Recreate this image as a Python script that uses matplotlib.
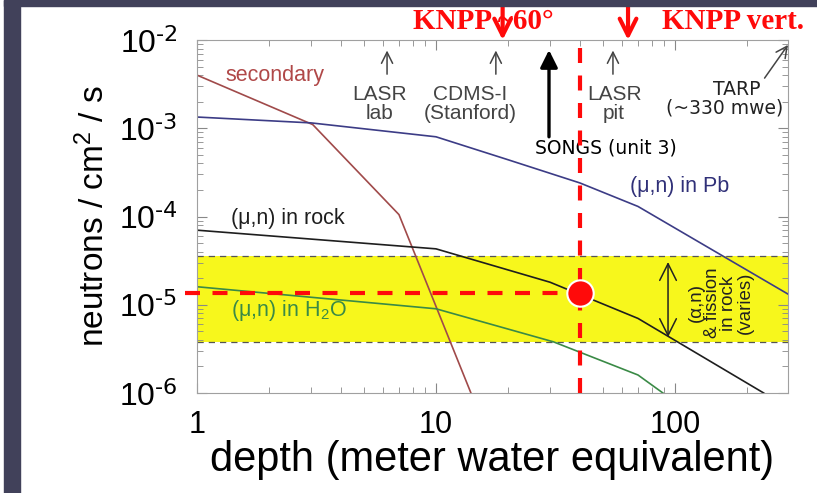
import numpy as np
import matplotlib
matplotlib.use("Agg")
from matplotlib import pyplot as plt
from matplotlib.ticker import LogLocator, NullFormatter

plt.rcParams['font.family'] = ['Liberation Sans', 'DejaVu Sans']
plt.rcParams['mathtext.default'] = 'regular'

# curves (depth in mwe, flux in n/cm2/s)
depth_secondary = [1, 3.05, 7, 14]
flux_secondary = [4.0e-3, 1.1e-3, 1.05e-4, 1e-6]
depth_pb = [1, 3, 10, 20, 40, 70, 300]
flux_pb = [1.34e-3, 1.15e-3, 8e-4, 4.4e-4, 2.4e-4, 1.3e-4, 1.3e-5]
depth_rock = [1, 10, 30, 70, 235]
flux_rock = [7e-5, 4.3e-5, 1.8e-5, 7e-6, 1e-6]
depth_h2o = [1, 10, 31, 70, 89]
flux_h2o = [1.6e-5, 9e-6, 3.8e-6, 1.6e-6, 1e-6]

# (alpha,n) band and KNPP point
band_lo, band_hi = 3.8e-6, 3.56e-5
knpp_depth, knpp_flux = 40, 1.35e-5

# site markers (depth)
sites_thin = {"LASR lab": 6.24, "CDMS-I": 17.8, "LASR pit": 55}
songs_depth = 29.7
knpp60_depth = 19
knppvert_depth = 63.6

fig = plt.figure(figsize=(8.17, 4.93), dpi=100)
fig.patches.append(plt.Rectangle((4/817, 0), 16/817, 1, transform=fig.transFigure,
                                 color='#41415a', zorder=0))
fig.patches.append(plt.Rectangle((4/817, 487/493), 1, 6/493, transform=fig.transFigure,
                                 color='#41415a', zorder=0))
ax = fig.add_axes([197/817, 100/493, 591/817, 353/493])
ax.set_xscale('log')
ax.set_yscale('log')
ax.set_xlim(1, 297)
ax.set_ylim(1e-6, 1e-2)

ax.axhspan(band_lo, band_hi, color='#f7f71c', zorder=0, lw=0)
for yv in (band_lo, band_hi):
    ax.axhline(yv, color='#555555', ls=(0, (5, 4)), lw=0.9, zorder=1)

ax.plot(depth_secondary, flux_secondary, color='#a04a4a', lw=1.2)
ax.plot(depth_pb, flux_pb, color='#3c3c86', lw=1.2)
ax.plot(depth_rock, flux_rock, color='#1e1e1e', lw=1.2)
ax.plot(depth_h2o, flux_h2o, color='#3a8a46', lw=1.2)

for s in ax.spines.values():
    s.set_color('#a0a0a0')
ax.xaxis.set_major_locator(LogLocator(base=10))
ax.yaxis.set_major_locator(LogLocator(base=10))
ax.xaxis.set_major_formatter(plt.FuncFormatter(lambda v, p: '%d' % round(v)))
ax.yaxis.set_major_formatter(plt.FuncFormatter(
    lambda v, p: r'$10^{\text{-%d}}$' % round(-np.log10(v))))
ax.xaxis.set_minor_locator(LogLocator(base=10, subs=np.arange(2, 10)))
ax.yaxis.set_minor_locator(LogLocator(base=10, subs=np.arange(2, 10)))
ax.xaxis.set_minor_formatter(NullFormatter())
ax.yaxis.set_minor_formatter(NullFormatter())
ax.tick_params(which='both', direction='in', top=True, right=True, color='#888888')
ax.tick_params(which='major', length=7, width=0.8)
ax.tick_params(which='minor', length=4, width=0.6)
ax.tick_params(axis='y', labelsize=23, pad=14)
ax.tick_params(axis='x', labelsize=22, pad=12)

ax.set_xlabel("depth (meter water equivalent)", fontsize=30, labelpad=0)
ax.set_ylabel("neutrons / cm$^2$ / s", fontsize=24)
ax.yaxis.set_label_coords(-0.145, 0.5)

# curve labels
ax.text(2.12, 4.0e-3, "secondary", color='#b04848', fontsize=15.5, ha='center', va='center')
ax.text(64.8, 2.16e-4, "(\u03bc,n) in Pb", color='#303078', fontsize=15.5, va='center')
ax.text(1.39, 9.6e-5, "(\u03bc,n) in rock", color='#1e1e1e', fontsize=15.5, va='center')
ax.text(1.39, 8.7e-6, "(\u03bc,n) in H$_2$O", color='#3a8a46', fontsize=15.5, va='center')

# site arrows and labels
arr = dict(arrowstyle='->', color='#444444', lw=1.1, mutation_scale=20, shrinkA=0, shrinkB=0)
for name, d in sites_thin.items():
    ax.annotate("", xy=(d, 7.6e-3), xytext=(d, 4.1e-3), arrowprops=arr)
ax.text(5.83, 1.88e-3, "LASR\nlab", fontsize=15, color='#444444', ha='center', va='center',
        linespacing=1.0)
ax.text(13.9, 1.88e-3, "CDMS-I\n(Stanford)", fontsize=15, color='#444444', ha='center',
        va='center', linespacing=1.0)
ax.text(55.6, 1.88e-3, "LASR\npit", fontsize=15, color='#444444', ha='center', va='center',
        linespacing=1.0)
ax.annotate("", xy=(297, 8.8e-3), xytext=(237, 3.7e-3), arrowprops=arr, annotation_clip=False)
ax.text(182, 2.75e-3, "TARP", fontsize=13.5, color='#222222', ha='center', va='center',
        family='DejaVu Sans')
ax.text(162, 1.7e-3, "(~330 mwe)", fontsize=13.5, color='#222222', ha='center', va='center',
        family='DejaVu Sans')
ax.annotate("", xy=(songs_depth, 7.7e-3), xytext=(songs_depth, 8e-4),
            arrowprops=dict(arrowstyle='-|>', color='black', lw=2.4, mutation_scale=26,
                            shrinkA=0, shrinkB=0))
ax.text(51.4, 6e-4, "SONGS (unit 3)", fontsize=13.5, color='black', ha='center', va='center',
        family='DejaVu Sans')

# (alpha,n) band note
ax.annotate("", xy=(93.5, 3.05e-5), xytext=(93.5, 4.3e-6),
            arrowprops=dict(arrowstyle='<->', color='#222222', lw=1.1, mutation_scale=30,
                            shrinkA=0, shrinkB=0))
ax.text(155, 1.05e-5, "(\u03b1,n)\n& fission\nin rock\n(varies)", fontsize=13.5, rotation=90,
        ha='center', va='center', color='#222222', linespacing=0.95)

# KNPP marks
red = '#ff0a0a'
ax.plot([knpp_depth, knpp_depth], [1e-6, 9.2e-3], color=red, lw=3, ls=(0, (3.6, 3.0)),
        clip_on=False, zorder=5)
ax.plot([0.89, knpp_depth], [knpp_flux, knpp_flux], color=red, lw=3, ls=(0, (3.6, 3.0)),
        clip_on=False, zorder=5)
ax.plot([knpp_depth], [knpp_flux], 'o', ms=19, color=red, mec='white', mew=1.5, zorder=6)

ax.text(8.0, 0.0163, "KNPP ~60\u00b0", family='Liberation Serif', weight='bold', color=red,
        fontsize=21, va='center', ha='left')
ax.text(88.3, 0.0163, "KNPP vert.", family='Liberation Serif', weight='bold', color=red,
        fontsize=21, va='center', ha='left')
for d in (knpp60_depth, knppvert_depth):
    ax.annotate("", xy=(d, 1.0e-2), xytext=(d, 0.027), annotation_clip=False,
                arrowprops=dict(arrowstyle='->', color=red, lw=3, mutation_scale=30,
                                shrinkA=0, shrinkB=0))

plt.savefig("out.png", dpi=100)
